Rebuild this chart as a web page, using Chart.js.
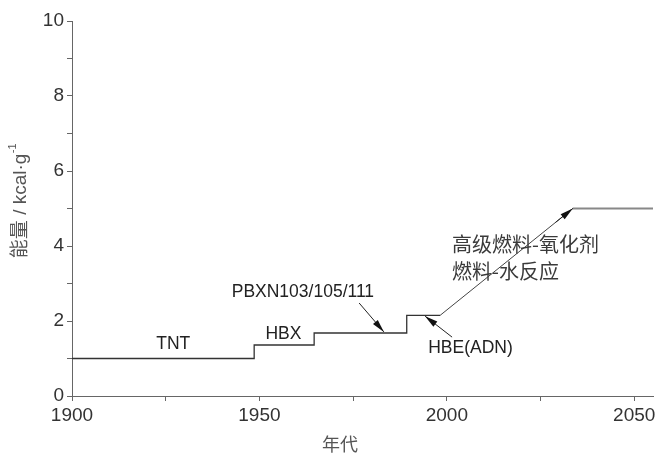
<!DOCTYPE html>
<html><head><meta charset="utf-8">
<script src="https://cdn.jsdelivr.net/npm/chart.js@4/dist/chart.umd.min.js"></script>
<style>html,body{margin:0;padding:0;background:#fff}#wrap{width:661px;height:457px}</style>
</head><body><div id="wrap"><canvas id="c" width="661" height="457"></canvas></div>
<script>
// ---- data ----
const vertexYears  = [1900, 1948.6, 1948.6, 1964.6, 1964.6, 1989.3, 1989.3, 1998.2, 2033.6, 2055];
const vertexEnergy = [1.0,  1.0,    1.36,   1.36,   1.68,   1.68,   2.15,   2.15,   5.0,    5.0];
const xTickValues = [1900, 1925, 1950, 1975, 2000, 2025, 2050];
const xTickLabels = ['1900', '', '1950', '', '2000', '', '2050'];
const yTickValues = [0, 1, 2, 3, 4, 5, 6, 7, 8, 9, 10];
const yTickLabels = ['0', '', '2', '', '4', '', '6', '', '8', '', '10'];
const labelTexts  = ['TNT', 'HBX', 'PBXN103/105/111', 'HBE(ADN)', '高级燃料-氧化剂', '燃料-水反应'];
const labelYears  = [1927.0, 1956.4, 1961.6, 2006.3, 2001.4, 2001.4];
const labelEnergy = [1.37, 1.64, 2.76, 1.27, 4.05, 3.32];
const arrowFromYears  = [1976.6, 2001.4, 2029.0];
const arrowFromEnergy = [2.48, 1.57, 4.63];
const arrowToYears    = [1983.2, 1994.2, 2033.6];
const arrowToEnergy   = [1.71, 2.13, 5.0];
const xTitle = '年代';
const yTitle = '能量 / kcal·g';
const yTitleSup = '-1';

const SANS = '"Liberation Sans", Arial, sans-serif';
const CJK = '"Noto Sans CJK SC", sans-serif';
const MIXED = '"Liberation Sans", "Noto Sans CJK SC", sans-serif';

function arrow(ctx, x0, y0, x1, y1) {
  const ang = Math.atan2(y1 - y0, x1 - x0);
  const L = 13, W = 3.2;
  ctx.beginPath(); ctx.moveTo(x0, y0); ctx.lineTo(x1, y1); ctx.stroke();
  const bx = x1 - L * Math.cos(ang), by = y1 - L * Math.sin(ang);
  ctx.beginPath();
  ctx.moveTo(x1, y1);
  ctx.lineTo(bx + W * Math.sin(ang), by - W * Math.cos(ang));
  ctx.lineTo(bx - W * Math.sin(ang), by + W * Math.cos(ang));
  ctx.closePath(); ctx.fill();
}

const annot = {
  id: 'annot',
  afterDatasetsDraw(chart) {
    const {ctx, scales: {x, y}} = chart;
    ctx.save();
    ctx.textBaseline = 'middle';
    labelTexts.forEach((t, i) => {
      const px = x.getPixelForValue(labelYears[i]);
      const py = y.getPixelForValue(labelEnergy[i]);
      if (i >= 4) { ctx.font = '20px ' + CJK; ctx.textAlign = 'left'; ctx.fillStyle = '#3a3a3a'; }
      else { ctx.font = '17.5px ' + SANS; ctx.textAlign = 'center'; ctx.fillStyle = '#222'; }
      ctx.fillText(t, px, py);
    });
    ctx.strokeStyle = '#222'; ctx.fillStyle = '#111'; ctx.lineWidth = 1;
    arrowFromYears.forEach((v, i) => {
      arrow(ctx, x.getPixelForValue(v), y.getPixelForValue(arrowFromEnergy[i]),
            x.getPixelForValue(arrowToYears[i]), y.getPixelForValue(arrowToEnergy[i]));
    });
    // axis titles
    ctx.fillStyle = '#555';
    ctx.font = '18px ' + CJK; ctx.textAlign = 'center'; ctx.textBaseline = 'middle';
    ctx.fillText(xTitle, 340, 444);
    ctx.translate(21, 201); ctx.rotate(-Math.PI / 2);
    ctx.font = '19px ' + MIXED;
    const w1 = ctx.measureText(yTitle).width;
    ctx.font = '11px ' + SANS;
    const w2 = ctx.measureText(yTitleSup).width;
    const start = -(w1 + w2) / 2;
    ctx.textAlign = 'left';
    ctx.font = '19px ' + MIXED;
    ctx.fillText(yTitle, start, 0);
    ctx.font = '11px ' + SANS;
    ctx.fillText(yTitleSup, start + w1 + 0.5, -8);
    ctx.restore();
  }
};

new Chart(document.getElementById('c'), {
  type: 'line',
  data: {
    datasets: [{
      data: vertexYears.map((v, i) => ({x: v, y: vertexEnergy[i]})),
      borderColor: '#333', borderWidth: 1.3, pointRadius: 0, fill: false, tension: 0,
      segment: {
        borderColor: c => c.p0DataIndex === 7 ? '#444' : (c.p0DataIndex === 8 ? '#888' : '#333'),
        borderWidth: c => c.p0DataIndex === 7 ? 1 : (c.p0DataIndex === 8 ? 2 : 1.3)
      }
    }]
  },
  options: {
    responsive: false, animation: false, devicePixelRatio: 1,
    layout: {padding: {left: 0, right: 8, top: 21, bottom: 0}},
    plugins: {legend: {display: false}, tooltip: {enabled: false}},
    scales: {
      x: {
        type: 'linear', min: 1900, max: 2055,
        afterBuildTicks: s => { s.ticks = xTickValues.map(v => ({value: v})); },
        afterFit: s => { s.height = 61; },
        ticks: {autoSkip: false, maxRotation: 0, padding: 3, color: '#333',
          font: {family: SANS, size: 19},
          callback: v => xTickLabels[xTickValues.indexOf(v)]},
        grid: {drawOnChartArea: false, drawTicks: true, tickLength: 5, color: '#666'},
        border: {color: '#666', width: 1}
      },
      y: {
        min: 0, max: 10,
        afterBuildTicks: s => { s.ticks = yTickValues.map(v => ({value: v})); },
        afterFit: s => { s.width = 72; },
        ticks: {autoSkip: false, padding: 3, color: '#333',
          font: {family: SANS, size: 19},
          callback: v => yTickLabels[yTickValues.indexOf(v)]},
        grid: {drawOnChartArea: false, drawTicks: true, tickLength: 5, color: '#666'},
        border: {color: '#666', width: 1}
      }
    }
  },
  plugins: [annot]
});
</script></body></html>
